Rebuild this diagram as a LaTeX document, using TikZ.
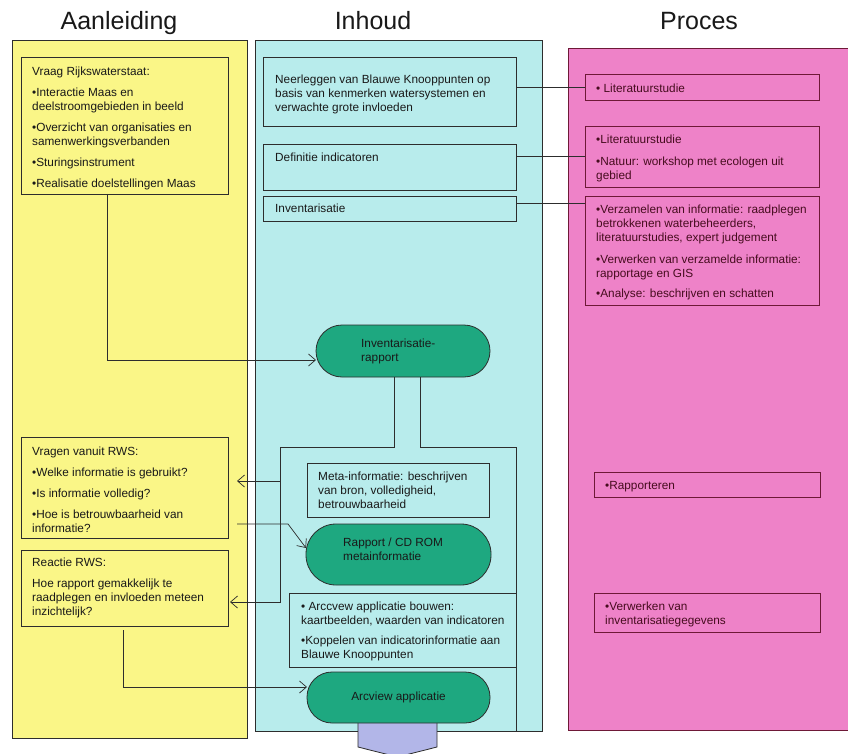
\documentclass[tikz,border=0pt]{standalone}
\usepackage{fontspec}
\setmainfont{Liberation Sans}
\usetikzlibrary{arrows.meta}
\definecolor{yel}{RGB}{250,246,135}
\definecolor{cya}{RGB}{184,236,236}
\definecolor{pnk}{RGB}{238,130,200}
\definecolor{grn}{RGB}{30,168,128}
\definecolor{pur}{RGB}{178,182,232}
\definecolor{ln}{RGB}{45,45,45}
\definecolor{mar}{RGB}{110,25,55}
\definecolor{txt}{RGB}{25,25,25}
\definecolor{ptxt}{RGB}{70,12,30}
\begin{document}
\begin{tikzpicture}[x=1pt,y=-1pt,
  box/.style={draw=ln, line width=0.8pt, anchor=north west, inner sep=0pt, outer sep=0pt},
  pbox/.style={draw=mar, line width=0.8pt, anchor=north west, inner sep=0pt, outer sep=0pt},
  lbl/.style={anchor=north west, inner sep=0pt, align=left, text=txt, font=\fontsize{11.8}{14}\selectfont},
  plbl/.style={lbl, text=ptxt},
  pill/.style={draw=ln, line width=0.8pt, fill=grn, inner sep=0pt, outer sep=0pt, text=txt, align=left, font=\fontsize{11.8}{14}\selectfont},
  ttl/.style={anchor=base, inner sep=0pt, font=\fontsize{25}{30}\selectfont, text=txt},
  con/.style={draw=ln, line width=0.7pt},
  arr/.style={con, -{Straight Barb[length=7pt,width=12pt]}}
]
\fill[white] (0,0) rectangle (848,754);
\useasboundingbox (0,0) rectangle (848,754);

% titles
\node[ttl] (t1) at (119,30) {Aanleiding};
\node[ttl] (t2) at (373,30) {Inhoud};
\node[ttl] (t3) at (699,30) {Proces};

% columns
\filldraw[fill=yel, draw=ln, line width=0.8pt] (12,40) rectangle (247,738);
\filldraw[fill=cya, draw=ln, line width=0.8pt] (255,40) rectangle (542,731);
\filldraw[fill=pnk, draw=mar, line width=0.8pt] (568,48) rectangle (858,730);

% yellow boxes
\node[box, minimum width=207pt, minimum height=137pt] (vraag) at (21,57) {};
\node[box, minimum width=207pt, minimum height=101pt] (vragen) at (21,437) {};
\node[box, minimum width=207pt, minimum height=76pt] (reactie) at (21,550) {};
\node[lbl] (vraagt) at (32,67) {Vraag Rijkswaterstaat:\\[7pt]
  •Interactie Maas en\\ deelstroomgebieden in beeld\\[7pt]
  •Overzicht van organisaties en\\ samenwerkingsverbanden\\[7pt]
  •Sturingsinstrument\\[7pt]
  •Realisatie doelstellingen Maas};
\node[lbl] (vragent) at (32,447) {Vragen vanuit RWS:\\[7pt]
  •Welke informatie is gebruikt?\\[7pt]
  •Is informatie volledig?\\[7pt]
  •Hoe is betrouwbaarheid van\\ informatie?};
\node[lbl] (reactiet) at (32,558) {Reactie RWS:\\[7pt]
  Hoe rapport gemakkelijk te\\ raadplegen en invloeden meteen\\ inzichtelijk?};

% cyan boxes
\node[box, minimum width=253pt, minimum height=69pt] (neer) at (263,57) {};
\node[box, minimum width=253pt, minimum height=46pt] (def) at (263,144) {};
\node[box, minimum width=253pt, minimum height=25pt] (inv) at (263,196) {};
\node[box, minimum width=182pt, minimum height=54pt] (meta) at (307,463) {};
\node[box, minimum width=227pt, minimum height=74pt] (arcbox) at (289,593) {};
\node[lbl] (neert) at (275,75) {Neerleggen van Blauwe Knooppunten op\\ basis van kenmerken watersystemen en\\ verwachte grote invloeden};
\node[lbl] (deft) at (275,153) {Definitie indicatoren};
\node[lbl] (invt) at (275,204) {Inventarisatie};
\node[lbl] (metat) at (318,472) {Meta-informatie: beschrijven\\ van bron, volledigheid,\\ betrouwbaarheid};
\node[lbl] (arcboxt) at (301,602) {• Arccvew applicatie bouwen:\\ kaartbeelden, waarden van indicatoren\\[6pt]
  •Koppelen van indicatorinformatie aan\\ Blauwe Knooppunten};

% pink boxes
\node[pbox, minimum width=234pt, minimum height=26pt] (p1) at (585,74) {};
\node[pbox, minimum width=234pt, minimum height=61pt] (p2) at (585,126) {};
\node[pbox, minimum width=234pt, minimum height=109pt] (p3) at (585,196) {};
\node[pbox, minimum width=226pt, minimum height=25pt] (p4) at (594,472) {};
\node[pbox, minimum width=226pt, minimum height=39pt] (p5) at (594,593) {};
\node[plbl] (p1t) at (596,84) {• Literatuurstudie};
\node[plbl] (p2t) at (596,135) {•Literatuurstudie\\[8pt] •Natuur: workshop met ecologen uit\\ gebied};
\node[plbl] (p3t) at (596,205) {•Verzamelen van informatie: raadplegen\\ betrokkenen waterbeheerders,\\ literatuurstudies, expert judgement\\[8pt]
  •Verwerken van verzamelde informatie:\\ rapportage en GIS\\[6pt]
  •Analyse: beschrijven en schatten};
\node[plbl] (p4t) at (605,481) {•Rapporteren};
\node[plbl] (p5t) at (605,602) {•Verwerken van\\ inventarisatiegegevens};

% purple connector shape
\filldraw[fill=pur, draw=ln, line width=0.8pt] (358,722) -- (437,722) -- (437,747) -- (397.5,757) -- (358,747) -- cycle;

% pills
\node[pill, minimum width=174pt, minimum height=52pt, rounded corners=26pt] (invrap) at (403,351) {};
\node[pill, minimum width=185pt, minimum height=61pt, rounded corners=30pt] (cdrom) at (398.5,554.5) {};
\node[pill, minimum width=183pt, minimum height=51pt, rounded corners=25pt] (arcview) at (398.5,697.5) {Arcview applicatie};
\node[lbl] (invrapt) at (361,339) {Inventarisatie-\\rapport};
\node[lbl] (cdromt) at (343,538) {Rapport / CD ROM\\metainformatie};

% connectors cyan -> pink
\draw[con] (neer.east |- p1.west) -- (p1.west);
\draw[con] (def.east |- p2.west) -- (p2.west);
\draw[con] ([yshift=5pt]inv.east) -- ([yshift=5pt]inv.east -| p3.west);

% flow connectors
\coordinate (lb) at (280,447);
\coordinate (rb) at (516,447);
\coordinate (rbb) at (516,731);
\coordinate (q1) at ([shift={(9,-6.5)}]vragen.east);
\coordinate (q2) at ([shift={(9,36.5)}]vragen.east);
\draw[arr] ([xshift=-17pt]vraag.south) |- ([yshift=-9pt]invrap.west);
\draw[arr] ([xshift=-9pt]invrap.south) |- (lb) |- ([shift={(2,14)}]reactie.east);
\draw[arr] (lb |- q1) -- (q1);
\draw[con] ([xshift=17pt]invrap.south) |- (rb) -- (rbb);
\draw[arr] (q2) -- ++(51,0) -- ([yshift=6.5pt]cdrom.west);
\draw[arr] ([shift={(-1.5,4)}]reactie.south) |- ([yshift=10.5pt]arcview.west);
\end{tikzpicture}
\end{document}
